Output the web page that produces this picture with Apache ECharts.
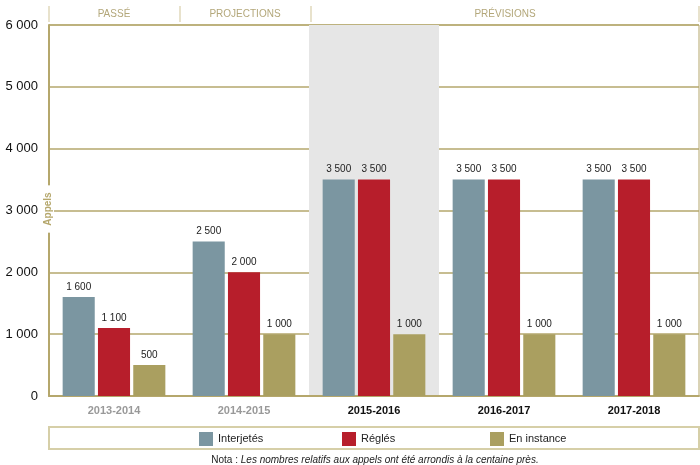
<!DOCTYPE html>
<html><head><meta charset="utf-8">
<script src="https://cdn.jsdelivr.net/npm/echarts@6/dist/echarts.min.js"></script>
<style>html,body{margin:0;padding:0;background:#fff}#c{width:700px;height:465px}</style>
</head><body><div id="c"></div>
<script>
const categories = ['2013-2014','2014-2015','2015-2016','2016-2017','2017-2018'];
const interjetes = [1600, 2500, 3500, 3500, 3500];
const regles = [1100, 2000, 3500, 3500, 3500];
const enInstance = [500, 1000, 1000, 1000, 1000];
const yTicks = [0, 1000, 2000, 3000, 4000, 5000, 6000];
const headers = ['PASSÉ', 'PROJECTIONS', 'PRÉVISIONS'];

const FONT = '"Liberation Sans", Arial, sans-serif';
const GOLD = '#b5a76c';
const fmt = v => String(v).replace(/\B(?=(\d{3})+(?!\d))/g, ' ');
const chart = echarts.init(document.getElementById('c'));
const lbl = {show:true, position:'top', distance:5, fontSize:10, color:'#222', fontFamily:FONT, formatter: p => fmt(p.value)};
const hdrColor = '#b3a77a';
const lineCol = '#e8e2cc';
chart.setOption({
  animation:false,
  textStyle:{fontFamily:FONT},
  grid:{left:49, right:1, top:25, bottom:69, show:true, borderColor:GOLD, borderWidth:1, containLabel:false, outerBoundsMode:'none'},
  xAxis:{type:'category', data:categories,
    axisLine:{lineStyle:{color:GOLD,width:2}}, axisTick:{show:false},
    axisLabel:{margin:9, formatter:(v,i)=> i<2 ? '{p|'+v+'}' : '{f|'+v+'}',
      rich:{p:{color:'#999',fontWeight:'bold',fontSize:11,fontFamily:FONT}, f:{color:'#111',fontWeight:'bold',fontSize:11,fontFamily:FONT}}},
    splitArea:{show:true, areaStyle:{color:['rgba(0,0,0,0)','rgba(0,0,0,0)','#e6e6e6','rgba(0,0,0,0)','rgba(0,0,0,0)']}}
  },
  yAxis:{type:'value', min:yTicks[0], max:yTicks[yTicks.length-1], interval:1000,
    axisLine:{show:true, lineStyle:{color:GOLD,width:2}}, axisTick:{show:false},
    axisLabel:{color:'#111', fontSize:13, margin:11, formatter:v=>fmt(v), fontFamily:FONT},
    splitLine:{lineStyle:{color:GOLD,width:1.5}}
  },
  legend:[
    {data:['Interjetés'], left:194, top:427, icon:'rect', itemWidth:14, itemHeight:14, itemGap:5, textStyle:{fontSize:11,color:'#222'}},
    {data:['Réglés'], left:337, top:427, icon:'rect', itemWidth:14, itemHeight:14, textStyle:{fontSize:11,color:'#222'}},
    {data:['En instance'], left:485, top:427, icon:'rect', itemWidth:14, itemHeight:14, textStyle:{fontSize:11,color:'#222'}}
  ],
  series:[
    {name:'Interjetés', type:'bar', data:interjetes, itemStyle:{color:'#7b96a1'}, barGap:'10%', barCategoryGap:'21%', label:lbl},
    {name:'Réglés', type:'bar', data:regles, itemStyle:{color:'#b71e2b'}, label:lbl},
    {name:'En instance', type:'bar', data:enInstance, itemStyle:{color:'#aa9f60'}, label:lbl}
  ],
  graphic:[
    {type:'rect', shape:{x:49,y:427,width:650,height:22}, style:{fill:'none', stroke:'#d6cfa8', lineWidth:2}, silent:true},
    {type:'line', shape:{x1:49,y1:6,x2:49,y2:22}, style:{stroke:lineCol,lineWidth:2}},
    {type:'line', shape:{x1:180,y1:6,x2:180,y2:22}, style:{stroke:lineCol,lineWidth:2}},
    {type:'line', shape:{x1:311,y1:6,x2:311,y2:22}, style:{stroke:lineCol,lineWidth:2}},
    {type:'line', shape:{x1:699,y1:6,x2:699,y2:22}, style:{stroke:lineCol,lineWidth:2}},
    {type:'text', x:114, y:14, style:{text:headers[0], fill:hdrColor, font:'10px '+FONT, align:'center', verticalAlign:'middle'}},
    {type:'text', x:245, y:14, style:{text:headers[1], fill:hdrColor, font:'10px '+FONT, align:'center', verticalAlign:'middle'}},
    {type:'text', x:505, y:14, style:{text:headers[2], fill:hdrColor, font:'10px '+FONT, align:'center', verticalAlign:'middle'}},
    {type:'text', x:48, y:209, rotation:Math.PI/2, z:100, style:{text:'Appels', fill:GOLD, font:'bold 10px '+FONT, align:'center', verticalAlign:'middle', backgroundColor:'#fff', padding:[1,7,1,7]}},
    {type:'text', x:375, y:460, style:{text:'{n|Nota : }{i|Les nombres relatifs aux appels ont été arrondis à la centaine près.}', align:'center', verticalAlign:'middle',
      rich:{n:{fontSize:10,fill:'#222',fontFamily:FONT}, i:{fontSize:10,fill:'#222',fontStyle:'italic',fontFamily:FONT}}}}
  ]
});
</script></body></html>
